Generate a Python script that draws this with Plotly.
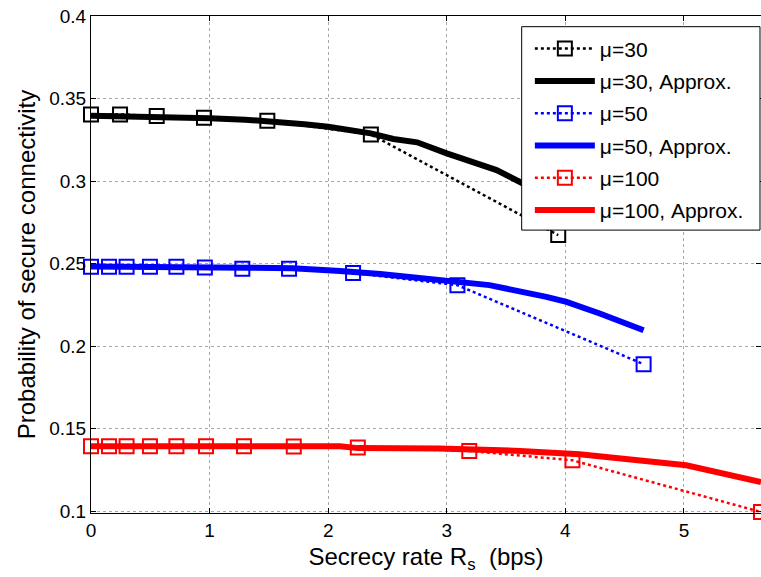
import plotly.graph_objects as go

# ---- data ----
x_mu30 = [0, 0.245, 0.554, 0.953, 1.487, 2.36, 3.94]
y_mu30 = [0.3404, 0.3404, 0.3394, 0.3384, 0.3366, 0.3283, 0.2673]

x_mu30_apx = [0, 0.5, 1.0, 1.3, 1.5, 1.8, 2.0, 2.2, 2.36, 2.55, 2.75, 3.0, 3.28, 3.42, 3.63, 3.94]
y_mu30_apx = [0.3396, 0.3392, 0.338, 0.3372, 0.3364, 0.3345, 0.3329, 0.331, 0.3289, 0.3255,
              0.3235, 0.3168, 0.3107, 0.3067, 0.299, 0.287]

x_mu50 = [0, 0.152, 0.30, 0.497, 0.72, 0.96, 1.276, 1.67, 2.21, 3.09, 4.66]
y_mu50 = [0.2481, 0.2481, 0.2481, 0.2481, 0.2481, 0.2477, 0.247, 0.247, 0.2444, 0.2370, 0.1891]

x_mu50_apx = [0, 0.5, 0.96, 1.3, 1.7, 1.99, 2.1, 2.44, 3.03, 3.36, 3.84, 4.01, 4.29, 4.66]
y_mu50_apx = [0.2483, 0.2483, 0.2481, 0.2476, 0.2472, 0.2465, 0.2455, 0.2438, 0.2396, 0.237,
              0.2299, 0.2269, 0.2198, 0.2097]

x_mu100 = [0, 0.152, 0.30, 0.497, 0.72, 0.97, 1.29, 1.71, 2.25, 3.19, 4.06, 5.65]
y_mu100 = [0.1394, 0.1394, 0.1394, 0.1394, 0.1394, 0.1394, 0.1394, 0.1392, 0.1386, 0.1366, 0.1309, 0.0996]

x_mu100_apx = [0, 1.0, 2.1, 2.25, 2.94, 3.62, 4.12, 5.02, 5.65]
y_mu100_apx = [0.1394, 0.1394, 0.1394, 0.1383, 0.138, 0.1366, 0.1346, 0.1279, 0.1178]

x_ticks = [0, 1, 2, 3, 4, 5]
y_ticks = [0.1, 0.15, 0.2, 0.25, 0.3, 0.35, 0.4]
y_tick_text = ["0.1", "0.15", "0.2", "0.25", "0.3", "0.35", "0.4"]

FONT = "Liberation Sans, Arial, sans-serif"

fig = go.Figure()

def sim(x, y, color, name, grp):
    fig.add_trace(go.Scatter(
        x=x, y=y, mode="lines+markers", name=name, legendgroup=grp,
        line=dict(color=color, width=2.5, dash="dot"),
        marker=dict(symbol="square-open", size=14, color=color, line=dict(width=2, color=color)),
        cliponaxis=False,
    ))

def apx(x, y, color, name, grp):
    fig.add_trace(go.Scatter(
        x=x, y=y, mode="lines", name=name, legendgroup=grp,
        line=dict(color=color, width=6),
    ))

sim(x_mu30, y_mu30, "black", "\u03bc=30", "a")
apx(x_mu30_apx, y_mu30_apx, "black", "\u03bc=30, Approx.", "b")
sim(x_mu50, y_mu50, "blue", "\u03bc=50", "c")
apx(x_mu50_apx, y_mu50_apx, "blue", "\u03bc=50, Approx.", "d")
sim(x_mu100, y_mu100, "red", "\u03bc=100", "e")
apx(x_mu100_apx, y_mu100_apx, "red", "\u03bc=100, Approx.", "f")

# legend box (white, bordered) covering curves
fig.add_shape(type="rect", xref="paper", yref="paper",
              x0=0.6428, x1=0.9985, y0=0.5692, y1=0.9785,
              line=dict(color="black", width=1), fillcolor="white", layer="above")

axis_common = dict(
    showline=True, linecolor="black", linewidth=1, mirror="ticks",
    ticks="inside", ticklen=5, tickcolor="black",
    showgrid=True, gridcolor="#a8a8a8", griddash="dot", gridwidth=1,
    zeroline=False, tickfont=dict(family=FONT, size=19, color="black"),
)

fig.update_xaxes(range=[0, 5.65], tickvals=x_ticks, ticktext=[str(v) for v in x_ticks],
                 title=dict(text="Secrecy rate R<sub>s</sub>  (bps)", font=dict(family=FONT, size=24, color="black"),
                            standoff=8),
                 **axis_common)
fig.update_yaxes(range=[0.099, 0.4], tickvals=y_ticks, ticktext=y_tick_text,
                 title=dict(text="Probability of secure connectivity", font=dict(family=FONT, size=24, color="black"),
                            standoff=6),
                 **axis_common)

fig.update_layout(
    width=761, height=577,
    margin=dict(l=91, r=0, t=16, b=64, autoexpand=False),
    paper_bgcolor="white", plot_bgcolor="white",
    showlegend=True,
    legend=dict(x=0.655, y=0.975, xanchor="left", yanchor="top",
                bgcolor="rgba(0,0,0,0)", borderwidth=0,
                font=dict(family=FONT, size=21, color="black"),
                tracegroupgap=2, itemwidth=60, traceorder="grouped"),
)

fig.write_html("out.html")
